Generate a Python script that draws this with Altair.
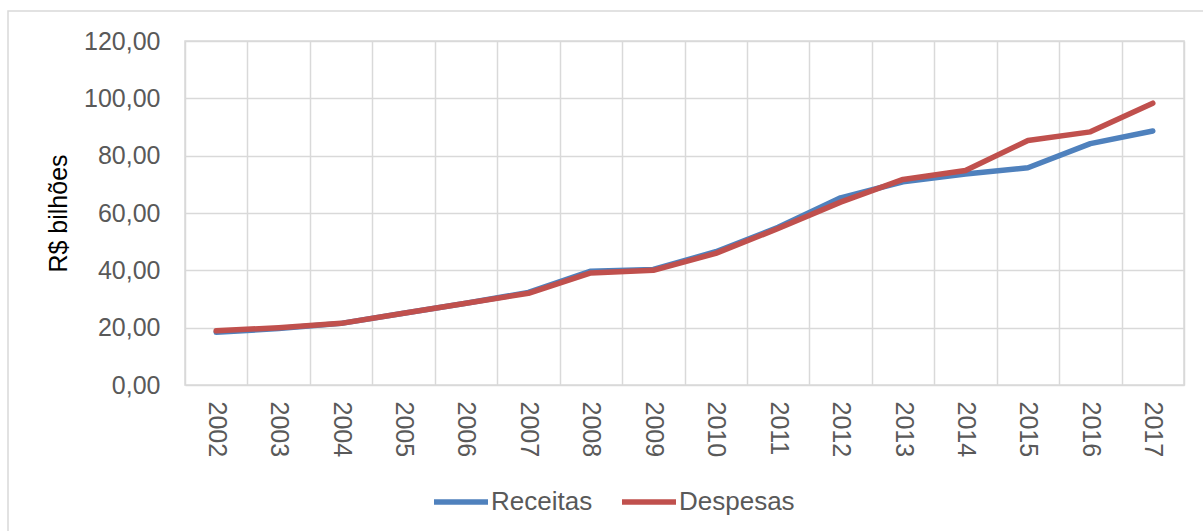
import altair as alt
import pandas as pd

anos = [str(a) for a in range(2002, 2018)]
receitas = [18.4, 19.7, 21.5, 25.0, 28.5, 32.3, 39.7, 40.3, 46.5, 55.0, 65.3, 70.9, 73.6, 75.8, 84.2, 88.6]
despesas = [18.9, 20.0, 21.5, 25.0, 28.5, 32.0, 39.1, 40.0, 45.9, 54.6, 63.8, 71.7, 74.8, 85.3, 88.3, 98.3]
series = ["Receitas", "Despesas"]
cores = ["#4F81BD", "#C0504D"]

rows = []
for i, a in enumerate(anos):
    rows.append({"ano": a, "serie": "Receitas", "valor": receitas[i], "ordem": 0})
for i, a in enumerate(anos):
    rows.append({"ano": a, "serie": "Despesas", "valor": despesas[i], "ordem": 1})
df = pd.DataFrame(rows)

FONT = "Liberation Sans"
GRID = "#D9D9D9"

lines = alt.Chart(df).mark_line(strokeWidth=5.5, strokeCap="round", strokeJoin="round").encode(
    x=alt.X("ano:N", sort=anos, bandPosition=0.5,
            scale=alt.Scale(type="band", paddingInner=0, paddingOuter=0),
            axis=alt.Axis(title=None, labelAngle=90, labelAlign="left", labelBaseline="middle",
                          labelPadding=16, ticks=False, domain=False, grid=True, tickBand="extent",
                          gridColor=GRID, gridWidth=1.5, labelFontSize=25, labelColor="#595959",
                          labelFont=FONT)),
    y=alt.Y("valor:Q", scale=alt.Scale(domain=[0, 120], nice=False),
            axis=alt.Axis(values=[0, 20, 40, 60, 80, 100, 120], title="R$ bilhões",
                          labelExpr="replace(format(datum.value, '.2f'), '.', ',')",
                          ticks=False, domain=False, gridColor=GRID, gridWidth=1.5,
                          labelPadding=25, labelFontSize=25, labelColor="#595959", labelFont=FONT,
                          titleFont=FONT, titleFontSize=25, titleFontWeight="normal",
                          titleColor="#000000", titleX=-127, titleY=172, titleAngle=-90,
                          titleAlign="center", titleBaseline="middle")),
    color=alt.Color("serie:N", sort=series,
                    scale=alt.Scale(domain=series, range=cores),
                    legend=alt.Legend(title=None, orient="none", direction="horizontal",
                                      legendX=246, legendY=431, symbolType="stroke",
                                      symbolSize=2916, symbolStrokeWidth=5.5,
                                      labelFontSize=26, labelFont=FONT, labelColor="#595959",
                                      labelOffset=0, columnPadding=18)),
    order=alt.Order("ordem:Q"),
)

frame_df = pd.DataFrame({"k": [1]})
frame = alt.Chart(frame_df).mark_rect(fill=None, stroke=GRID, strokeWidth=1.5).encode(
    x=alt.value(-177), x2=alt.value(1030), y=alt.value(-30), y2=alt.value(500)
)

chart = alt.layer(frame, lines).properties(
    width=999, height=344,
    autosize=alt.AutoSizeParams(type="none"),
    padding={"left": 185, "top": 41, "right": 19, "bottom": 146},
    background="#FFFFFF",
).configure_view(stroke=GRID, strokeWidth=1.5)

chart.save("out.html", embed_options={"renderer": "svg", "actions": False})
